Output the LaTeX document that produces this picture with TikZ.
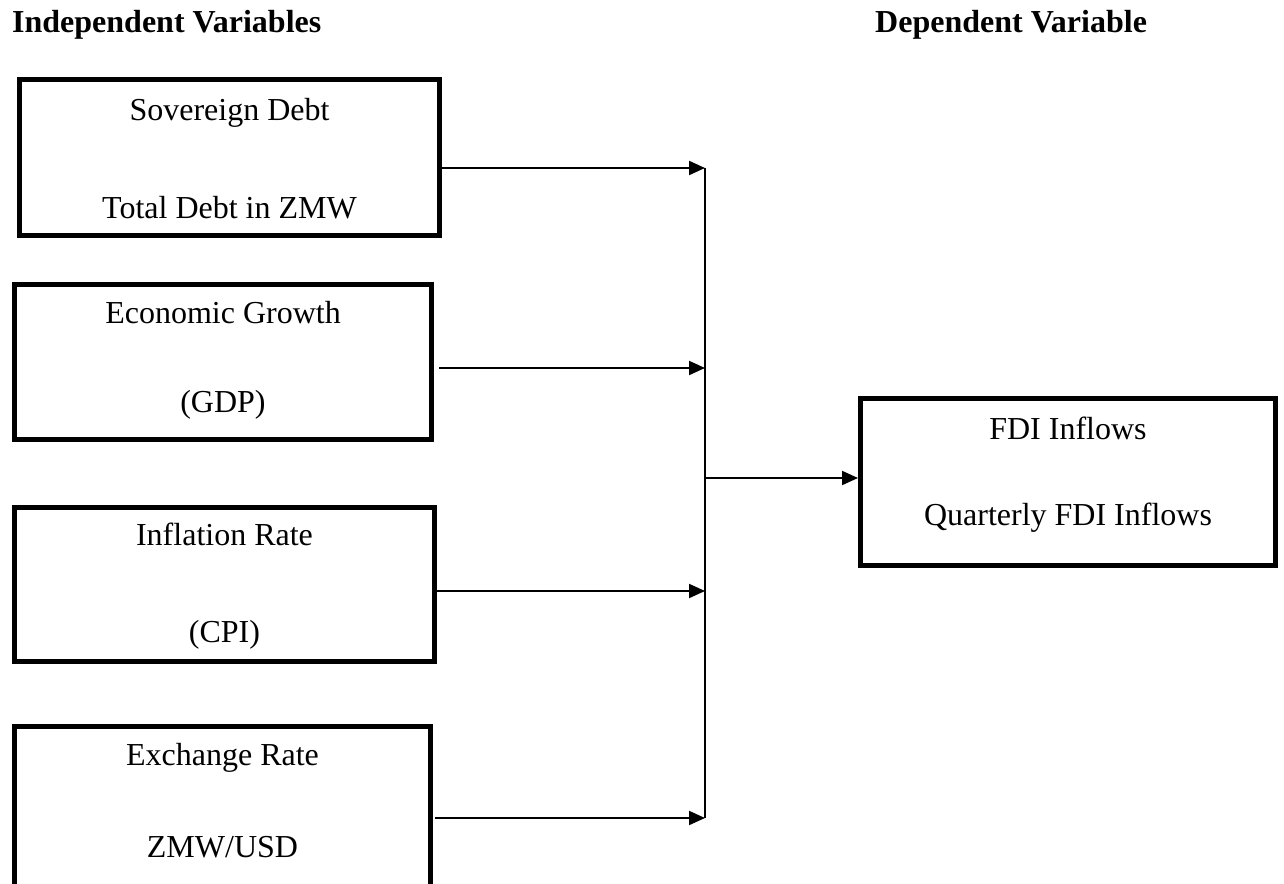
\documentclass[tikz,border=0pt]{standalone}
\usepackage{fontspec}
\setmainfont{Liberation Serif}
\usetikzlibrary{arrows.meta}
\begin{document}
\begin{tikzpicture}[x=1pt,y=-1pt,
  box/.style={draw,line width=5pt,rectangle,inner sep=0pt},
  txt/.style={inner sep=0pt,anchor=base,font=\fontsize{32}{36}\selectfont},
  head/.style={inner sep=0pt,anchor=base west,font=\fontsize{32}{36}\selectfont\bfseries},
  arr/.style={line width=2pt,-{Triangle[length=16pt,width=14pt]}},
  bus/.style={line width=2.5pt}]
\useasboundingbox (0,0) rectangle (1284,883);
% headings
\node[head] (hi) at (12,33) {Independent Variables};
\node[head] (hd) at (875,33) {Dependent Variable};
% boxes
\node[box,minimum width=420pt,minimum height=156pt] (b1) at (229.5,157.5) {};
\node[box,minimum width=417pt,minimum height=155pt] (b2) at (223,362) {};
\node[box,minimum width=420pt,minimum height=154pt] (b3) at (224.5,584.5) {};
\node[box,minimum width=416pt,minimum height=180pt] (b4) at (222.5,816.5) {};
\node[box,minimum width=415pt,minimum height=167pt] (fdi) at (1068,482) {};
% texts
\node[txt] (t1a) at (229.5,120) {Sovereign Debt};
\node[txt] (t1b) at (229.5,218) {Total Debt in ZMW};
\node[txt] (t2a) at (223,323) {Economic Growth};
\node[txt] (t2b) at (223,412) {(GDP)};
\node[txt] (t3a) at (224.5,545) {Inflation Rate};
\node[txt] (t3b) at (224.5,642) {(CPI)};
\node[txt] (t4a) at (222.5,765) {Exchange Rate};
\node[txt] (t4b) at (222.5,857) {ZMW/USD};
\node[txt] (tfa) at (1068,439) {FDI Inflows};
\node[txt] (tfb) at (1068,525) {Quarterly FDI Inflows};
% junction points on the bus
\coordinate (j1) at (705,168);
\coordinate (j2) at (705,368);
\coordinate (j3) at (705,591);
\coordinate (j4) at (705,818);
\coordinate (jo) at (706,478);
% connectors
\draw[bus] (j1) -- (j4);
\draw[arr] (b1.east |- j1) -- (j1);
\draw[arr] ([xshift=5pt]b2.east |- j2) -- (j2);
\draw[arr] (b3.east |- j3) -- (j3);
\draw[arr] ([xshift=2pt]b4.east |- j4) -- (j4);
\draw[arr] (jo) -- (fdi.west |- jo);
\end{tikzpicture}
\end{document}
